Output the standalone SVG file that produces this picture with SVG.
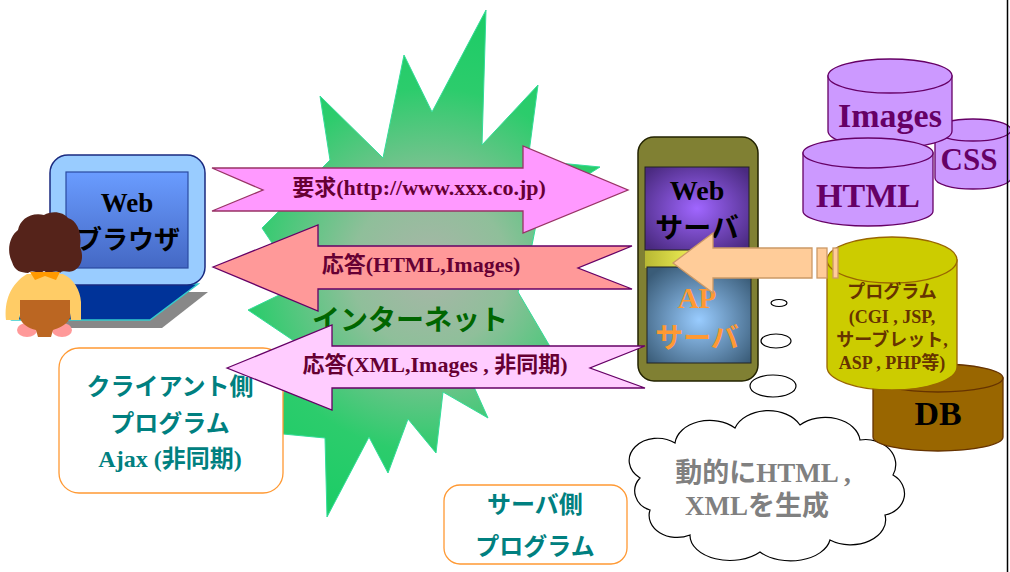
<svg xmlns="http://www.w3.org/2000/svg" width="1010" height="572" viewBox="0 0 1010 572">
  <defs>
    <radialGradient id="burstFill" cx="430" cy="270" r="260" gradientUnits="userSpaceOnUse">
      <stop offset="0" stop-color="#a9b5a8"/>
      <stop offset="0.3" stop-color="#8fbf9a"/>
      <stop offset="0.7" stop-color="#2ccc6c"/>
      <stop offset="1" stop-color="#1ccc66"/>
    </radialGradient>
    <linearGradient id="screenFill" x1="0" y1="0" x2="0" y2="1">
      <stop offset="0" stop-color="#6a9cff"/>
      <stop offset="1" stop-color="#4468c4"/>
    </linearGradient>
    <radialGradient id="webSrvFill" cx="0.5" cy="0.5" r="0.65">
      <stop offset="0" stop-color="#a066ff"/>
      <stop offset="1" stop-color="#4a2a80"/>
    </radialGradient>
    <radialGradient id="apSrvFill" cx="0.5" cy="0.55" r="0.65">
      <stop offset="0" stop-color="#99ccff"/>
      <stop offset="1" stop-color="#3a5c78"/>
    </radialGradient>
    <linearGradient id="bandFill" x1="0" y1="0" x2="1" y2="0">
      <stop offset="0" stop-color="#b8b833"/>
      <stop offset="0.45" stop-color="#eeee55"/>
      <stop offset="1" stop-color="#a8a830"/>
    </linearGradient>
  </defs>
  <style>
    .serif { font-family: "Liberation Serif", "Noto Sans CJK JP", serif; font-weight: bold; text-anchor: middle; }
    .goth { font-family: "Noto Sans CJK JP", sans-serif; font-weight: bold; text-anchor: middle; }
    .arrowTxt { font-size: 22px; fill: #660033; }
    .teal { fill: #008080; font-size: 24px; }
    .cyl-purple { fill: #cc99ff; stroke: #660066; stroke-width: 1.3; }
    .cyl-yellow { fill: #cccc00; stroke: #996600; stroke-width: 1.3; }
    .cyl-brown { fill: #996600; stroke: #663300; stroke-width: 1.3; }
    .bubble { fill: #ffffff; stroke: #000000; stroke-width: 1.2; }
    .note { fill: #ffffff; stroke: #ff9933; stroke-width: 1.3; }
  </style>

  <rect x="0" y="0" width="1010" height="572" fill="#ffffff"/>

  <!-- Internet starburst -->
  <g id="internet">
    <polygon fill="url(#burstFill)" stroke="#33dd99" stroke-width="1"
      points="486,10 482,145 538,85 528,160 600,167 540,205 532,245 518,292 565,372 470,378 488,418 443,392 436,453 408,419 388,473 369,437 327,517 325,438 262,432 288,385 300,345 248,310 300,285 262,228 330,160 320,96 383,158 404,55 432,112"/>
    <text class="goth" x="410" y="330" font-size="28" fill="#006600">インターネット</text>
  </g>

  <!-- Client side program note -->
  <g id="client-note">
    <rect class="note" x="59" y="348" width="224" height="145" rx="20"/>
    <text class="serif teal" x="170" y="395">クライアント側</text>
    <text class="serif teal" x="170" y="432">プログラム</text>
    <text class="serif teal" x="170" y="467">Ajax (非同期)</text>
  </g>

  <!-- Server side program note -->
  <g id="server-note">
    <rect class="note" x="444" y="485" width="183" height="79" rx="16"/>
    <text class="serif teal" x="535" y="513">サーバ側</text>
    <text class="serif teal" x="535" y="555">プログラム</text>
  </g>

  <!-- Browser terminal -->
  <g id="browser">
    <polygon points="75,292 208,292 162,328 20,328" fill="#888888"/>
    <polygon points="77,284 198,284 150,320 13,320" fill="#003399" stroke="#33cccc" stroke-width="1.5"/>
    <rect x="50" y="155" width="155" height="130" rx="18" fill="#99ccff" stroke="#1a2a80" stroke-width="1.5"/>
    <rect x="66" y="172" width="122" height="96" fill="url(#screenFill)" stroke="#2a4aa0" stroke-width="1.2"/>
    <text class="serif" x="127" y="212" font-size="27" fill="#000000">Web</text>
    <text class="goth" x="128" y="249" font-size="26" fill="#000000">ブラウザ</text>
  </g>

  <!-- User -->
  <g id="user">
    <ellipse cx="27" cy="330" rx="10" ry="7" fill="#ff9999"/>
    <ellipse cx="62" cy="330" rx="10" ry="7" fill="#ff9999"/>
    <path d="M27,274 L63,274 C74,279 80,290 81,302 L81,320 L71,320 L69,306 L62,301 L30,301 L21,306 L19,320 L6,320 C4,302 10,284 27,274 Z" fill="#ffcc66"/>
    <path d="M20,300 L70,300 L70,318 C66,326 58,328 53,330 L51,337 L38,337 L36,330 C28,328 22,324 20,318 Z" fill="#bb6622"/>
    <path d="M12,262 C6,250 10,236 18,230 C20,220 30,212 44,215 C52,210 64,212 68,218 C78,221 82,234 80,247 C84,256 82,266 75,270 C69,274 64,269 60,273 C54,269 50,275 44,271 C38,275 34,269 28,273 C21,272 15,272 12,262 Z" fill="#55231a"/>
    <polygon points="30,272 60,272 56,280 45,276 35,280" fill="#ff9900"/>
  </g>

  <!-- Web / AP server -->
  <g id="server">
    <rect x="638" y="137" width="120" height="244" rx="16" fill="#808033" stroke="#222200" stroke-width="1.5"/>
    <rect x="645" y="250" width="105" height="18" fill="url(#bandFill)"/>
    <rect x="645" y="167" width="104" height="83" fill="url(#webSrvFill)" stroke="#222222" stroke-width="1"/>
    <rect x="647" y="267" width="104" height="96" fill="url(#apSrvFill)" stroke="#222222" stroke-width="1"/>
    <text class="serif" x="697" y="200" font-size="28" fill="#000000">Web</text>
    <text class="goth" x="697" y="238" font-size="28" fill="#000000">サーバ</text>
    <text class="serif" x="697" y="308" font-size="29" fill="#ff9933">AP</text>
    <text class="goth" x="697" y="348" font-size="28" fill="#ff9933">サーバ</text>
  </g>

  <!-- Static resources -->
  <g id="css-store">
    <path class="cyl-purple" d="M935,130 L935,178 A38,11 0 0 0 1011,178 L1011,130 Z"/>
    <ellipse class="cyl-purple" cx="973" cy="130" rx="38" ry="11"/>
    <text class="serif" x="969" y="170" font-size="31" fill="#660066">CSS</text>
  </g>
  <g id="images-store">
    <path class="cyl-purple" d="M828,76 L828,131 A62,17 0 0 0 952,131 L952,76 Z"/>
    <ellipse class="cyl-purple" cx="890" cy="76" rx="62" ry="17"/>
    <text class="serif" x="890" y="127" font-size="34" fill="#660066">Images</text>
  </g>
  <g id="html-store">
    <path class="cyl-purple" d="M803,153 L803,211 A65,15 0 0 0 933,211 L933,153 Z"/>
    <ellipse class="cyl-purple" cx="868" cy="153" rx="65" ry="15"/>
    <text class="serif" x="868" y="207" font-size="34" fill="#660066">HTML</text>
  </g>

  <!-- Dynamic generation cloud -->
  <g id="cloud">
    <path class="bubble" d="M640,478 A28,22 0 0 1 675,443 A35,25 0 0 1 735,428 A35,25 0 0 1 800,425 A35,25 0 0 1 860,440 A30,25 0 0 1 893,475 A25,22 0 0 1 885,515 A35,25 0 0 1 830,540 A40,25 0 0 1 760,552 A40,25 0 0 1 690,535 A28,22 0 0 1 650,510 A22,20 0 0 1 640,478 Z"/>
    <text class="serif" x="763" y="482" font-size="27" fill="#808080">動的にHTML ,</text>
    <text class="serif" x="757" y="515" font-size="27" fill="#808080">XMLを生成</text>
  </g>
  <g id="thought-dots">
    <ellipse class="bubble" cx="779" cy="303" rx="8" ry="3.5"/>
    <ellipse class="bubble" cx="776" cy="341" rx="15" ry="7"/>
    <ellipse class="bubble" cx="773" cy="386" rx="23" ry="11"/>
  </g>

  <!-- Database -->
  <g id="db">
    <path class="cyl-brown" d="M873,378 L873,437 A65,14 0 0 0 1003,437 L1003,378 Z"/>
    <ellipse class="cyl-brown" cx="938" cy="378" rx="65" ry="14"/>
    <text class="serif" x="938" y="425" font-size="34" fill="#000000">DB</text>
  </g>

  <!-- Server programs -->
  <g id="programs">
    <path class="cyl-yellow" d="M827,260 L827,367 A65,23 0 0 0 957,367 L957,260 Z"/>
    <ellipse class="cyl-yellow" cx="892" cy="260" rx="65" ry="23"/>
    <text class="serif" x="892" y="298" font-size="18" fill="#663300">プログラム</text>
    <text class="serif" x="892" y="323" font-size="18" fill="#663300">(CGI , JSP,</text>
    <text class="serif" x="892" y="346" font-size="18" fill="#663300">サーブレット,</text>
    <text class="serif" x="892" y="369" font-size="18" fill="#663300">ASP , PHP等)</text>
  </g>

  <!-- Connectors -->
  <g id="connectors">
    <path d="M212,168 L523,168 L523,146 L628,190 L523,233 L523,211 L212,211 L263,190 Z" fill="#ff99ff" stroke="#993366" stroke-width="1.3"/>
    <text class="serif arrowTxt" x="419" y="195">要求(http://www.xxx.co.jp)</text>

    <path d="M213,267 L318,225 L318,246 L632,246 L578,268 L632,289 L318,289 L318,311 Z" fill="#ff9999" stroke="#660066" stroke-width="1.3"/>
    <text class="serif arrowTxt" x="421" y="272">応答(HTML,Images)</text>

    <path d="M227,368 L332,325 L332,346 L645,346 L590,368 L645,388 L332,388 L332,410 Z" fill="#ffccff" stroke="#660066" stroke-width="1.3"/>
    <text class="serif arrowTxt" x="435" y="372">応答(XML,Images , 非同期)</text>

    <path d="M673,263 L713,233 L713,248 L812,248 L812,278 L713,278 L713,293 Z" fill="#ffcc99" stroke="#cc9966" stroke-width="1.3"/>
    <rect x="817" y="248" width="10" height="30" fill="#ffcc99" stroke="#cc9966" stroke-width="1.3"/>
    <rect x="833" y="248" width="5" height="30" fill="#ffcc99" stroke="#cc9966" stroke-width="1.3"/>
  </g>

  <line x1="1007.5" y1="0" x2="1007.5" y2="572" stroke="#000000" stroke-width="1.5"/>
</svg>
